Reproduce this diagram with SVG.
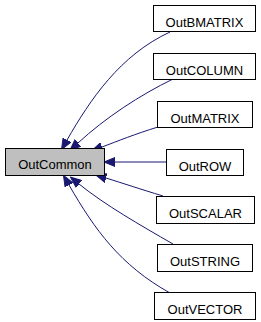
<svg xmlns="http://www.w3.org/2000/svg" width="261" height="322" viewBox="0 0 261 322">
<style>
.n rect{fill:#fff;stroke:#000;stroke-width:1}
.n text{font-family:"Liberation Sans",Arial,sans-serif;font-size:13px;text-anchor:middle;fill:#000}
#OutCommon rect{fill:#bfbfbf}
.e path{fill:none;stroke:#191970;stroke-width:1}
</style>
<defs>
<marker id="arr" markerUnits="userSpaceOnUse" markerWidth="12" markerHeight="10" refX="0" refY="4.5" orient="auto" viewBox="0 0 12 9">
<polygon points="0,0 11,4.5 0,9" fill="#191970" stroke="#191970"/>
</marker>
</defs>
<rect width="261" height="322" fill="#fff"/>
<g id="edges" class="e">
<path d="M170,32 C120,55 90,100 67,140" marker-end="url(#arr)"/>
<path d="M173,79 C140,95 105,118 78,143" marker-end="url(#arr)"/>
<path d="M158,127 C135,134 118,141 102,147" marker-end="url(#arr)"/>
<path d="M166,162 L115,162" marker-end="url(#arr)"/>
<path d="M163,196 C140,189 122,183 106,178" marker-end="url(#arr)"/>
<path d="M173,244 C140,225 105,205 79,184" marker-end="url(#arr)"/>
<path d="M170,293 C120,265 95,230 69,185" marker-end="url(#arr)"/>
</g>
<g id="OutCommon" class="n"><rect x="5.5" y="148.5" width="99" height="27"/><text x="55" y="169">OutCommon</text></g>
<g id="OutBMATRIX" class="n"><rect x="153.5" y="5.5" width="102" height="26"/><text x="204.5" y="26.5">OutBMATRIX</text></g>
<g id="OutCOLUMN" class="n"><rect x="153.5" y="53.5" width="102" height="26"/><text x="204.5" y="74.5">OutCOLUMN</text></g>
<g id="OutMATRIX" class="n"><rect x="157.5" y="101.5" width="95" height="26"/><text x="205" y="122.5">OutMATRIX</text></g>
<g id="OutROW" class="n"><rect x="166.5" y="149.5" width="77" height="26"/><text x="205" y="170.5">OutROW</text></g>
<g id="OutSCALAR" class="n"><rect x="156.5" y="196.5" width="98" height="27"/><text x="205.5" y="217.5">OutSCALAR</text></g>
<g id="OutSTRING" class="n"><rect x="157.5" y="244.5" width="95" height="27"/><text x="205" y="265.5">OutSTRING</text></g>
<g id="OutVECTOR" class="n"><rect x="154.5" y="292.5" width="101" height="27"/><text x="205" y="313.5">OutVECTOR</text></g>
</svg>
